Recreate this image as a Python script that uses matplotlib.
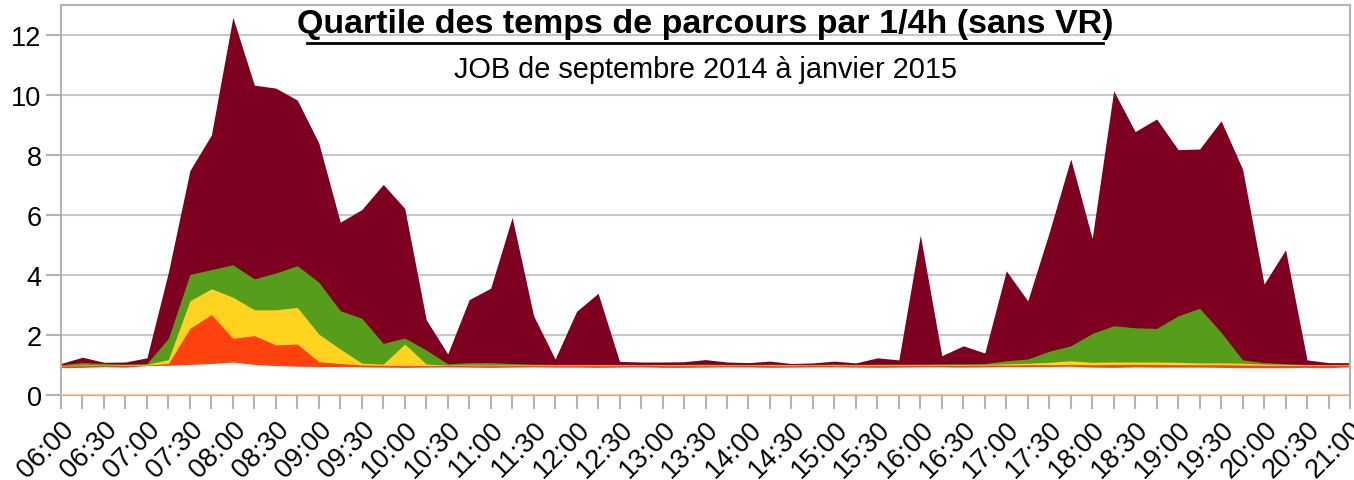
import numpy as np
import pandas as pd
import matplotlib
matplotlib.use('Agg')
import matplotlib.pyplot as plt

# quarter-hour slots 06:00 -> 21:00
heures = pd.date_range('2014-09-01 06:00', '2014-09-01 21:00', freq='15min')
etiquettes = [h.strftime('%H:%M') for h in heures]

# travel-time quartiles per 1/4h
maxi = [1.05, 1.26, 1.09, 1.1, 1.24, 4.1, 7.48, 8.67, 12.59, 10.33,
        10.23, 9.83, 8.4, 5.76, 6.18, 7.02, 6.22, 2.51, 1.37, 3.18,
        3.56, 5.92, 2.64, 1.2, 2.79, 3.39, 1.12, 1.1, 1.1, 1.11,
        1.18, 1.1, 1.08, 1.13, 1.05, 1.07, 1.13, 1.07, 1.24, 1.17,
        5.33, 1.31, 1.64, 1.4, 4.14, 3.14, 5.42, 7.87, 5.22, 10.14,
        8.78, 9.2, 8.18, 8.2, 9.14, 7.53, 3.7, 4.84, 1.17, 1.08, 1.08]
q3 = [1.01, 1.08, 1.05, 1.03, 1.05, 1.89, 4.02, 4.18, 4.34, 3.87,
      4.07, 4.31, 3.76, 2.81, 2.56, 1.72, 1.9, 1.5, 1.04, 1.08,
      1.08, 1.05, 1.03, 1.02, 1.02, 1.02, 1.02, 1.02, 1.02, 1.02,
      1.03, 1.02, 1.02, 1.03, 1.02, 1.02, 1.03, 1.02, 1.03, 1.03,
      1.03, 1.04, 1.04, 1.05, 1.14, 1.2, 1.46, 1.64, 2.05, 2.31,
      2.24, 2.22, 2.64, 2.89, 2.09, 1.17, 1.08, 1.04, 1.02, 1.02, 1.03]
mediane = [0.98, 1.0, 1.0, 1.0, 1.02, 1.18, 3.14, 3.54, 3.26, 2.84,
           2.84, 2.92, 2.03, 1.53, 1.06, 1.03, 1.7, 1.03, 1.0, 1.0,
           1.0, 1.0, 1.0, 1.0, 1.0, 1.0, 1.0, 1.0, 1.0, 1.0,
           1.0, 1.0, 1.0, 1.0, 1.0, 1.0, 1.0, 1.0, 1.0, 1.0,
           1.01, 1.01, 1.01, 1.02, 1.04, 1.06, 1.09, 1.14, 1.09, 1.1,
           1.1, 1.1, 1.09, 1.07, 1.07, 1.06, 1.03, 1.02, 1.01, 1.0, 1.01]
q1 = [0.97, 0.98, 0.99, 0.98, 1.0, 1.05, 2.22, 2.68, 1.89, 1.98,
      1.67, 1.7, 1.11, 1.05, 1.0, 0.99, 0.98, 0.98, 0.99, 0.98,
      0.98, 0.98, 0.98, 0.98, 0.98, 0.98, 0.98, 0.99, 0.98, 0.98,
      0.98, 0.98, 0.99, 0.98, 0.98, 0.99, 0.98, 0.98, 0.98, 0.98,
      0.99, 0.99, 0.99, 1.0, 1.0, 1.01, 1.01, 1.02, 1.01, 1.02,
      1.02, 1.02, 1.01, 1.01, 1.01, 1.0, 0.99, 0.99, 0.99, 0.99, 1.0]
mini = [0.91, 0.92, 0.95, 0.93, 0.98, 0.99, 1.02, 1.05, 1.1, 1.02,
        0.98, 0.96, 0.95, 0.95, 0.94, 0.93, 0.92, 0.93, 0.94, 0.93,
        0.92, 0.93, 0.94, 0.93, 0.93, 0.92, 0.93, 0.94, 0.92, 0.92,
        0.93, 0.94, 0.94, 0.92, 0.93, 0.94, 0.94, 0.93, 0.92, 0.93,
        0.94, 0.94, 0.93, 0.94, 0.95, 0.95, 0.95, 0.96, 0.93, 0.92,
        0.94, 0.93, 0.93, 0.93, 0.92, 0.91, 0.91, 0.91, 0.92, 0.91, 0.94]

series = [(maxi, '#7e0021'), (q3, '#579d1c'), (mediane, '#ffd320'),
          (q1, '#ff420e'), (mini, 'white')]

plt.rcParams['font.family'] = ['Liberation Sans', 'DejaVu Sans']

fig = plt.figure(figsize=(13.54, 4.81), dpi=100)
ax = fig.add_axes([61 / 1354, 1 - 396 / 481, 1289 / 1354, 390 / 481])

x = np.arange(len(etiquettes))
for vals, col in series:
    ax.fill_between(x, 0, vals, color=col, linewidth=0, zorder=2)
ax.axhline(0, color='#f7c9a0', linewidth=1.5, zorder=3)

ax.set_xlim(0, len(x) - 1)
ax.set_ylim(0, 13)
ax.set_yticks(np.arange(0, 13, 2))
ax.set_xticks(x, minor=True)
ax.set_xticks(x[::2])
ax.set_xticklabels(etiquettes[::2], rotation=45, ha='right', va='top',
                   rotation_mode='anchor', fontsize=19.5)
ax.tick_params(axis='y', labelsize=19.5, length=11, width=1.5, color='#b3b3b3', pad=3)
ax.tick_params(axis='x', which='both', length=10, width=1.5, color='#b3b3b3', pad=5)
ax.grid(axis='y', color='#c8c8c8', linewidth=1.5, zorder=0)
ax.set_axisbelow(True)
for s in ax.spines.values():
    s.set_color('#b3b3b3')
    s.set_linewidth(1.5)

ax.text(0.5, 0.952, 'Quartile des temps de parcours par 1/4h (sans VR)',
        transform=ax.transAxes, ha='center', va='center', fontsize=24.5,
        fontweight='bold', zorder=5)
# underline of the title
ax.plot([0.1908, 0.8084], [0.9025, 0.9025], transform=ax.transAxes,
        color='black', linewidth=2, zorder=5, clip_on=False)
ax.text(0.5, 0.835, 'JOB de septembre 2014 à janvier 2015',
        transform=ax.transAxes, ha='center', va='center', fontsize=20.8, zorder=5)

fig.savefig('out.png', dpi=100)
